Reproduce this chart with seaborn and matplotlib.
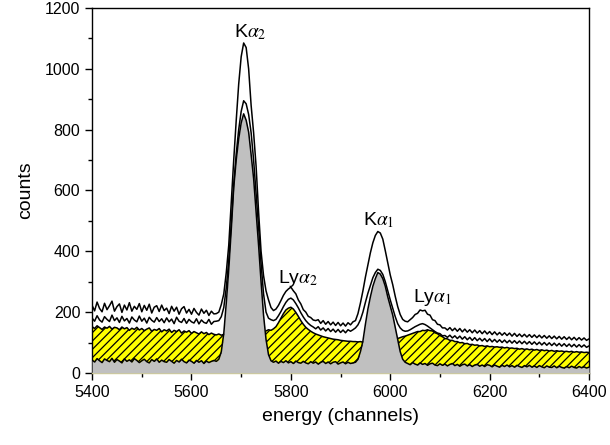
import numpy as np
import matplotlib
matplotlib.use("Agg")
import matplotlib.pyplot as plt
from matplotlib.ticker import MultipleLocator
import seaborn as sns

# ------------------------------------------------------------
# Spectra (one value every 5 channels)
# ------------------------------------------------------------

channel = np.arange(5400, 6401, 5)

# top spectrum (line only)
spec_top = [
    222, 204, 233, 212, 201, 229, 208, 221, 236, 203,
    218, 227, 199, 223, 207, 231, 203, 219, 209, 228,
    201, 222, 206, 226, 197, 216, 221, 202, 223, 205,
    213, 195, 219, 203, 216, 193, 211, 218, 197, 209,
    193, 212, 199, 190, 210, 196, 206, 189, 203, 194,
    195, 200, 225, 260, 330, 420, 560, 700, 830, 950,
    1040, 1085, 1070, 1000, 880, 790, 680, 530, 400, 320,
    270, 240, 215, 205, 210, 222, 238, 255, 268, 276,
    282, 270, 260, 240, 227, 208, 200, 186, 182, 174,
    172, 175, 163, 172, 160, 169, 158, 167, 156, 166,
    155, 164, 154, 165, 158, 168, 172, 195, 230, 270,
    315, 355, 395, 428, 452, 465, 460, 440, 402, 362,
    322, 290, 252, 218, 192, 176, 170, 168, 175, 182,
    192, 196, 207, 204, 206, 193, 190, 175, 172, 160,
    158, 148, 148, 141, 149, 139, 147, 137, 146, 135,
    144, 134, 142, 132, 141, 131, 139, 129, 138, 128,
    136, 126, 135, 125, 133, 124, 132, 123, 131, 121,
    130, 120, 128, 119, 127, 118, 126, 117, 125, 116,
    124, 115, 123, 114, 122, 113, 121, 112, 120, 111,
    119, 110, 118, 109, 117, 108, 116, 108, 115, 107,
    112,
]

# middle spectrum (line only)
spec_mid = [
    180, 170, 188, 174, 167, 185, 176, 169, 190, 172,
    181, 166, 186, 171, 179, 164, 184, 174, 168, 187,
    170, 180, 164, 183, 173, 167, 182, 169, 178, 165,
    181, 168, 177, 162, 183, 170, 166, 179, 163, 176,
    168, 164, 178, 161, 174, 166, 163, 176, 160, 169,
    170, 172, 185, 215, 280, 370, 490, 620, 720, 800,
    860, 895, 885, 850, 790, 700, 590, 480, 360, 260,
    200, 180, 175, 172, 176, 188, 202, 218, 232, 242,
    246, 240, 228, 214, 198, 184, 172, 163, 156, 151,
    145, 152, 141, 148, 138, 146, 136, 144, 134, 143,
    133, 141, 132, 142, 137, 142, 148, 158, 175, 200,
    232, 262, 288, 313, 330, 341, 337, 324, 300, 270,
    240, 212, 185, 162, 148, 140, 137, 138, 142, 147,
    152, 156, 160, 162, 159, 154, 148, 142, 136, 131,
    129, 122, 123, 117, 124, 115, 122, 113, 121, 111,
    119, 109, 117, 107, 116, 106, 114, 105, 113, 103,
    112, 102, 110, 101, 109, 100, 108, 99, 107, 98,
    106, 97, 105, 96, 104, 95, 103, 94, 102, 93,
    101, 92, 100, 91, 99, 90, 98, 89, 97, 88,
    96, 87, 95, 86, 94, 85, 93, 85, 92, 84,
    89,
]

# Ly-alpha component (yellow, hatched)
spec_ly = [
    152, 146, 155, 149, 143, 151, 147, 153, 144, 150,
    148, 142, 151, 145, 149, 140, 147, 143, 150, 141,
    146, 139, 144, 148, 137, 143, 140, 146, 135, 142,
    138, 144, 133, 140, 136, 142, 131, 138, 134, 139,
    130, 136, 132, 128, 135, 129, 133, 126, 131, 127,
    125, 128, 124, 127, 123, 126, 122, 125, 124, 127,
    123, 126, 124, 128, 125, 127, 130, 128, 132, 135,
    138, 142, 140, 145, 152, 165, 180, 195, 207, 213,
    216, 210, 199, 186, 172, 160, 150, 143, 137, 132,
    128, 125, 122, 119, 117, 115, 113, 111, 110, 109,
    107, 106, 105, 104, 104, 103, 103, 102, 103, 101,
    102, 100, 101, 100, 101, 100, 102, 101, 103, 104,
    105, 107, 110, 113, 116, 119, 121, 124, 127, 130,
    133, 136, 136, 140, 139, 142, 139, 138, 132, 129,
    123, 119, 113, 112, 107, 107, 103, 103, 99, 100,
    96, 97, 93, 94, 91, 92, 89, 90, 87, 89,
    86, 87, 85, 86, 84, 85, 82, 84, 81, 82,
    80, 81, 78, 80, 77, 79, 76, 78, 75, 77,
    74, 76, 73, 75, 72, 74, 71, 73, 71, 72,
    70, 71, 69, 71, 68, 70, 68, 69, 67, 68,
    67,
]

# K-alpha component (grey)
spec_k = [
    42, 36, 47, 40, 34, 46, 41, 37, 48, 35,
    44, 39, 33, 46, 38, 43, 36, 47, 41, 34,
    40, 45, 37, 33, 44, 38, 46, 35, 42, 37,
    35, 44, 38, 32, 41, 36, 45, 37, 33, 42,
    38, 32, 41, 35, 40, 31, 39, 34, 38, 41,
    38, 45, 70, 130, 230, 340, 470, 610, 700, 770,
    822, 852, 831, 792, 718, 640, 530, 420, 300, 190,
    110, 60, 40, 35, 39, 32, 38, 34, 40, 33,
    37, 31, 39, 34, 32, 38, 33, 30, 37, 32,
    36, 29, 35, 38, 31, 36, 30, 35, 37, 29,
    33, 36, 30, 35, 31, 33, 35, 45, 70, 105,
    160, 210, 250, 285, 310, 330, 325, 310, 285, 250,
    220, 190, 150, 110, 70, 45, 35, 31, 27, 34,
    29, 26, 33, 28, 31, 25, 30, 32, 26, 24,
    30, 25, 29, 23, 28, 31, 24, 28, 22, 27,
    29, 23, 27, 21, 26, 28, 22, 26, 21, 27,
    25, 20, 26, 22, 19, 25, 21, 26, 20, 24,
    19, 25, 21, 18, 24, 20, 25, 19, 23, 18,
    24, 20, 17, 23, 19, 18, 23, 17, 22, 18,
    16, 21, 17, 22, 18, 16, 21, 17, 20, 16,
    19,
]

peak_labels = ["K$\\alpha_2$", "Ly$\\alpha_2$", "K$\\alpha_1$", "Ly$\\alpha_1$"]
peak_x = [5718, 5815, 5977, 6084]
peak_y = [1105, 296, 487, 234]

# ------------------------------------------------------------
# Style
# ------------------------------------------------------------

sns.set_style("ticks")
plt.rcParams["font.family"] = ["Liberation Sans", "DejaVu Sans"]
plt.rcParams["mathtext.fontset"] = "stix"
plt.rcParams["hatch.linewidth"] = 0.9
plt.rcParams["text.color"] = "black"
plt.rcParams["axes.labelcolor"] = "black"

fig = plt.figure(figsize=(6.1, 4.45), dpi=100)
ax = fig.add_axes([0.151, 0.162, 0.8146, 0.820])

# ------------------------------------------------------------
# Plot
# ------------------------------------------------------------

ax.fill_between(channel, 0, spec_ly, facecolor="#ffff00", edgecolor="black",
                hatch="////", linewidth=0, zorder=1)
sns.lineplot(x=channel, y=spec_ly, color="black", linewidth=1.1, ax=ax, zorder=2)

ax.fill_between(channel, 0, spec_k, facecolor="#c0c0c0", linewidth=0, zorder=3)
sns.lineplot(x=channel, y=spec_k, color="black", linewidth=1.1, ax=ax, zorder=4)

sns.lineplot(x=channel, y=spec_mid, color="black", linewidth=1.1, ax=ax, zorder=5)
sns.lineplot(x=channel, y=spec_top, color="black", linewidth=1.1, ax=ax, zorder=6)

for lab, px, py in zip(peak_labels, peak_x, peak_y):
    ax.text(px, py, lab, ha="center", va="baseline", fontsize=14,
            color="black", zorder=7)

ax.set_xlim(5400, 6400)
ax.set_ylim(0, 1200)
ax.xaxis.set_major_locator(MultipleLocator(200))
ax.xaxis.set_minor_locator(MultipleLocator(100))
ax.yaxis.set_major_locator(MultipleLocator(200))
ax.yaxis.set_minor_locator(MultipleLocator(100))
ax.tick_params(which="major", direction="out", length=5, width=1,
               labelsize=11.5, colors="black")
ax.tick_params(which="minor", direction="out", length=3, width=1, colors="black")

for side in ["top", "right", "left", "bottom"]:
    ax.spines[side].set_visible(True)
    ax.spines[side].set_color("black")
    ax.spines[side].set_linewidth(1)
ax.spines["bottom"].set_color("#d2cc8c")

ax.set_xlabel("energy (channels)", fontsize=14, labelpad=6)
ax.set_ylabel("counts", fontsize=14, labelpad=8)

fig.savefig("out.png", dpi=100)
